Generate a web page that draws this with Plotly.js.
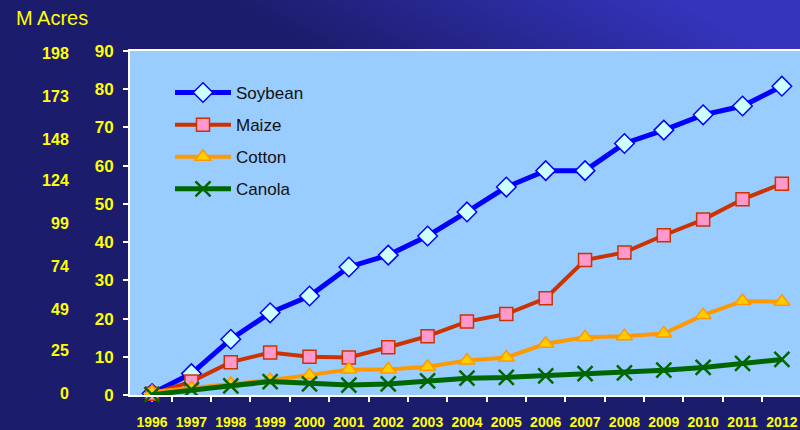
<!DOCTYPE html>
<html><head><meta charset="utf-8">
<script src="https://cdn.plot.ly/plotly-3.0.1.min.js"></script>
<style>
html,body{margin:0;padding:0;}
body{width:800px;height:430px;overflow:hidden;background:linear-gradient(to top right,#1c1c6c 0%,#1c1c6c 64%,#3434bc 92%,#3434bc 100%);}
#chart{width:800px;height:430px;}
</style></head><body><div id="chart"></div>
<script>
const years = [1996,1997,1998,1999,2000,2001,2002,2003,2004,2005,2006,2007,2008,2009,2010,2011,2012];
const yearLabels = years.map(String);
const soybean = [0.4,5.6,14.6,21.5,25.9,33.5,36.6,41.6,47.9,54.4,58.7,58.7,65.8,69.3,73.3,75.6,80.8];
const maize   = [0.3,3.5,8.6,11.1,10.0,9.8,12.5,15.4,19.2,21.2,25.3,35.3,37.3,41.8,45.9,51.2,55.3];
const cotton  = [0.8,1.8,2.9,3.9,5.2,6.7,6.7,7.4,9.0,9.8,13.4,15.1,15.4,16.1,20.9,24.6,24.4];
const canola  = [0.1,1.4,2.4,3.5,2.9,2.6,2.9,3.7,4.4,4.6,5.0,5.6,5.8,6.5,7.2,8.3,9.3];
const hectareTicks = [0,10,20,30,40,50,60,70,80,90];
const acreTicks = [0,25,49,74,99,124,148,173,198];
const halfYears = years.slice(0,-1).map(y => y + 0.5);

const FONT = 'Arial, "Liberation Sans", sans-serif';
const YEL = '#ffff00';
const W = 800, H = 430;

function series(name, y, lineColor, lineWidth, marker) {
  return {type:'scatter', mode:'lines+markers', name:name, x:years, y:y,
    legendgroup:name, cliponaxis:false,
    line:{color:lineColor, width:lineWidth}, marker:marker, hoverinfo:'x+y'};
}

const data = [
  series('Soybean', soybean, '#0000ff', 5, {symbol:'diamond', size:15, color:'#ccffff', line:{color:'#0000ff', width:1.5}}),
  series('Maize', maize, '#cc3300', 4, {symbol:'square', size:13, color:'#ff99cc', line:{color:'#cc3300', width:1.5}}),
  series('Cotton', cotton, '#ff9900', 4, {symbol:'triangle-up', size:14, color:'#ffcc00', line:{color:'#ff9900', width:1.5}}),
  series('Canola', canola, '#006600', 5, {symbol:'x-thin', size:15, color:'#006600', line:{color:'#006600', width:2.5}}),
  {type:'scatter', x:[null], y:[null], yaxis:'y2', showlegend:false, hoverinfo:'skip'}
];

const layout = {
  width:W, height:H,
  margin:{l:0, r:0, t:0, b:0, pad:0, autoexpand:false},
  paper_bgcolor:'rgba(0,0,0,0)',
  plot_bgcolor:'rgba(0,0,0,0)',
  showlegend:true,
  font:{family:FONT},
  xaxis:{
    domain:[130/W, 1],
    range:[1995.44, 2012.46],
    tickmode:'array', tickvals:years, ticktext:yearLabels,
    ticks:'', ticklabelstandoff:13,
    tickfont:{family:FONT, size:14, color:YEL, weight:'bold'},
    showgrid:false, zeroline:false,
    showline:true, linecolor:'#ffffff', linewidth:2, mirror:true,
    minor:{tickmode:'array', tickvals:halfYears, ticks:'outside', ticklen:5, tickwidth:2, tickcolor:'#ffffff', showgrid:false},
    automargin:false, fixedrange:true
  },
  yaxis:{
    domain:[(H-395)/H, (H-51)/H],
    range:[0, 90],
    tickmode:'array', tickvals:hectareTicks, ticktext:hectareTicks.map(String),
    ticks:'outside', ticklen:5, tickwidth:2, tickcolor:'#ffffff',
    ticklabelstandoff:6,
    tickfont:{family:FONT, size:17, color:YEL, weight:'bold'},
    showgrid:false, zeroline:false,
    showline:true, linecolor:'#ffffff', linewidth:2,
    automargin:false, fixedrange:true
  },
  yaxis2:{
    overlaying:'y', side:'left', anchor:'free', position:0.086,
    range:[-1, 199.2],
    tickmode:'array', tickvals:acreTicks, ticktext:acreTicks.map(String),
    ticks:'', showline:false, showgrid:false, zeroline:false,
    tickfont:{family:FONT, size:16, color:YEL, weight:'bold'},
    automargin:false, fixedrange:true
  },
  legend:{
    x:170/W, y:(H-75)/H, xanchor:'left', yanchor:'top',
    bgcolor:'rgba(0,0,0,0)', borderwidth:0,
    font:{family:FONT, size:17, color:'#111111'},
    tracegroupgap:7, itemwidth:56
  },
  shapes:[{type:'rect', xref:'x domain', yref:'y domain', x0:0, x1:1, y0:0, y1:1,
    fillcolor:'#99ccff', line:{width:0}, layer:'below'}],
  annotations:[{text:'M Acres', xref:'paper', yref:'paper', x:14/W, y:(H-18)/H,
    xanchor:'left', yanchor:'middle', showarrow:false,
    font:{family:FONT, size:20, color:YEL}}]
};

Plotly.newPlot('chart', data, layout, {displayModeBar:false, staticPlot:true});
</script></body></html>
